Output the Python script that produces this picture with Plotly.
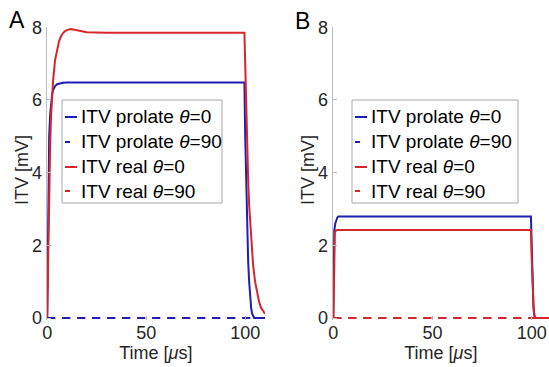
import plotly.graph_objects as go

W, H = 549, 367
FONT = "Liberation Sans, Arial, sans-serif"
BLUE = "#1e1eb0"
RED = "#d7262b"

# ---------------- data ----------------
# Panel A
tA_prolate0 = [0, 0.3, 0.6, 1.0, 1.5, 2.0, 2.5, 3.0, 4.0, 5.0, 6.0, 8.0, 10.0, 20.0, 40.0, 60.0, 80.0, 99.6,
               100.0, 100.5, 101.0, 101.5, 102.0, 102.5, 103.0, 103.5, 104.0, 104.5, 110.0]
vA_prolate0 = [0, 2.4, 4.0, 5.0, 5.6, 5.95, 6.15, 6.27, 6.38, 6.43, 6.45, 6.47, 6.48, 6.48, 6.48, 6.48, 6.48, 6.48,
               5.0, 3.6, 2.4, 1.55, 1.0, 0.55, 0.28, 0.12, 0.04, 0.0, 0.0]
tA_real0 = [0, 0.5, 1.0, 1.5, 2.0, 2.5, 3.0, 4.0, 5.0, 6.0, 7.0, 8.0, 9.0, 10.0, 11.0, 12.0, 13.0, 14.0, 16.0, 18.0,
            20.0, 30.0, 60.0, 99.6, 100.0, 100.5, 101.0, 101.5, 102.0, 103.0, 104.0, 105.0, 106.0, 107.0, 108.0,
            109.0, 110.0]
vA_real0 = [0, 2.0, 3.6, 4.8, 5.6, 6.15, 6.55, 7.1, 7.42, 7.62, 7.75, 7.84, 7.89, 7.92, 7.94, 7.95, 7.94, 7.92, 7.89,
            7.87, 7.86, 7.85, 7.85, 7.85, 7.0, 5.6, 4.6, 3.8, 3.1, 2.1, 1.45, 1.0, 0.68, 0.45, 0.28, 0.18, 0.12]
tA_flat = [0, 110]
vA_prolate90 = [0, 0]
vA_real90 = [0, 0]

# Panel B
tB_prolate0 = [0, 0.5, 1.0, 1.5, 2.0, 2.5, 50.0, 99.6, 100.0, 100.4, 100.8, 101.2, 101.6, 110.0]
vB_prolate0 = [0, 2.4, 2.6, 2.7, 2.76, 2.79, 2.79, 2.79, 2.0, 1.0, 0.4, 0.1, 0.0, 0.0]
tB_real0 = [0, 0.4, 0.8, 1.3, 2.0, 50.0, 99.6, 100.0, 100.5, 101.0, 101.5, 102.0, 110.0]
vB_real0 = [0, 2.2, 2.35, 2.41, 2.42, 2.42, 2.42, 1.6, 0.7, 0.2, 0.05, 0.0, 0.0]
tB_flat = [0, 110]
vB_prolate90 = [0, 0]
vB_real90 = [0, 0]

names = ["ITV prolate <i>θ</i>=0", "ITV prolate <i>θ</i>=90", "ITV real <i>θ</i>=0", "ITV real <i>θ</i>=90"]
colors = [BLUE, BLUE, RED, RED]
dashes = ["solid", "8px,7px", "solid", "8px,7px"]

y_ticks = [0, 2, 4, 6, 8]
x_ticks = [0, 50, 100]
panel_labels = ["A", "B"]
x_title = "Time [<i>μ</i>s]"
y_title = "ITV [mV]"

# ---------------- figure ----------------
fig = go.Figure()

def add(t, v, i, xa, ya):
    fig.add_trace(go.Scatter(x=t, y=v, mode="lines", name=names[i], showlegend=False,
                             line=dict(color=colors[i], width=2, dash=dashes[i]),
                             xaxis=xa, yaxis=ya))

# Panel A (blue dashed on top of red dashed, red solid above blue solid)
add(tA_flat, vA_real90, 3, "x", "y")
add(tA_prolate0, vA_prolate0, 0, "x", "y")
add(tA_real0, vA_real0, 2, "x", "y")
add(tA_flat, vA_prolate90, 1, "x", "y")
# Panel B (red dashed on top)
add(tB_prolate0, vB_prolate0, 0, "x2", "y2")
add(tB_flat, vB_prolate90, 1, "x2", "y2")
add(tB_real0, vB_real0, 2, "x2", "y2")
add(tB_flat, vB_real90, 3, "x2", "y2")

def px(x):
    return x / W

def py(y):
    return 1 - y / H

axis_common = dict(showgrid=False, zeroline=False, ticks="inside", ticklen=4, tickcolor="#b8b8b8",
                   automargin=False,
                   tickfont=dict(family=FONT, size=18, color="#262626"))
xa = dict(axis_common, showline=False, tickvals=x_ticks,
          title=dict(text=x_title, font=dict(family=FONT, size=18, color="#262626"), standoff=2))
ya = dict(axis_common, showline=True, linecolor="#bdbdbd", linewidth=1, tickvals=y_ticks,
          range=[-0.06, 8.0])

fig.update_layout(
    width=W, height=H, margin=dict(l=0, r=0, t=0, b=0, autoexpand=False),
    paper_bgcolor="white", plot_bgcolor="white", showlegend=False,
    xaxis=dict(xa, domain=[px(46.6), px(265)], range=[-0.3, 110], anchor="y"),
    yaxis=dict(ya, domain=[py(320.2), py(27.2)], anchor="x"),
    xaxis2=dict(xa, domain=[px(332.7), 1.0], range=[-0.3, 108.7], anchor="y2"),
    yaxis2=dict(ya, domain=[py(320.2), py(27.2)], anchor="x2"),
)

# y-axis titles (placed precisely)
for tx in [22, 308]:
    fig.add_annotation(text=y_title, x=px(tx), y=py(170), xref="paper", yref="paper", showarrow=False,
                       textangle=-90, xanchor="center", yanchor="middle",
                       font=dict(family=FONT, size=18, color="#262626"))

# panel letters
for lab, (lx, ly) in zip(panel_labels, [(17, 20), (302, 21)]):
    fig.add_annotation(text=lab, x=px(lx), y=py(ly), xref="paper", yref="paper", showarrow=False,
                       xanchor="center", yanchor="middle", font=dict(family=FONT, size=23, color="black"))

# hand-drawn MATLAB-style legends
rows = [117, 142, 167, 191]
for (x0, x1) in [(62, 222), (352, 518)]:
    fig.add_shape(type="rect", xref="paper", yref="paper", x0=px(x0), x1=px(x1), y0=py(203), y1=py(100),
                  line=dict(color="#a9a9a9", width=1), fillcolor="white", layer="above")
    for i, ry in enumerate(rows):
        seg_end = x0 + 15 if dashes[i] == "solid" else x0 + 8
        fig.add_shape(type="line", xref="paper", yref="paper", x0=px(x0 + 3), x1=px(seg_end),
                      y0=py(ry), y1=py(ry), line=dict(color=colors[i], width=2), layer="above")
        fig.add_annotation(text=names[i], x=px(x0 + 17), y=py(ry), xref="paper", yref="paper",
                           showarrow=False, xanchor="left", yanchor="middle",
                           font=dict(family=FONT, size=19, color="black"))

fig.write_html("out.html", config={"displayModeBar": False},
               post_script="document.body.style.margin='0';document.body.style.overflow='hidden';")
